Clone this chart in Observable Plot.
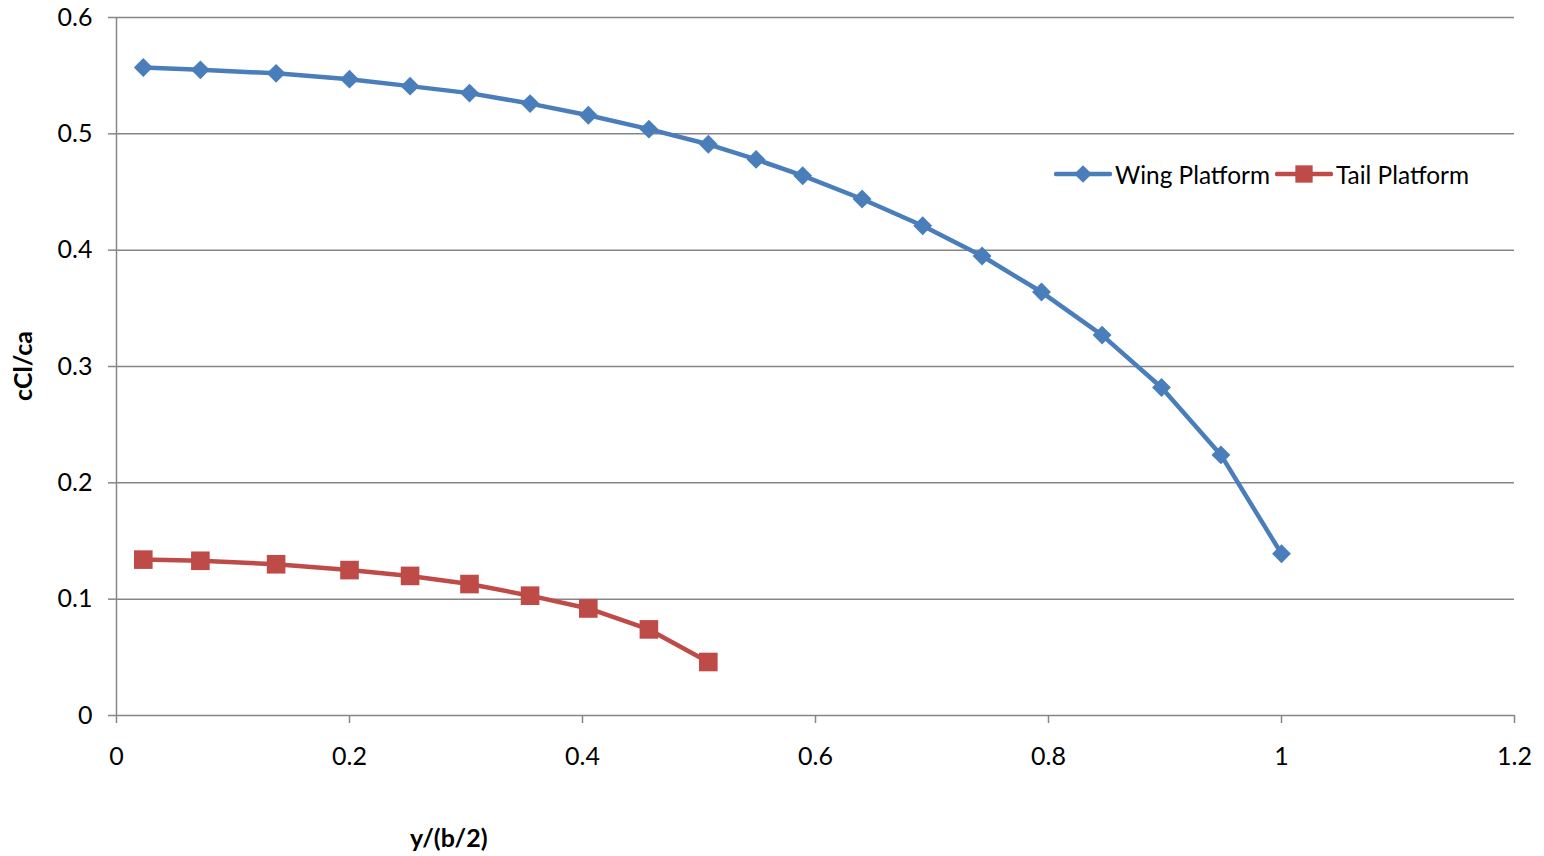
<!DOCTYPE html>
<html>
<head>
<meta charset="utf-8">
<script src="https://cdn.jsdelivr.net/npm/d3@7"></script>
<script src="https://cdn.jsdelivr.net/npm/@observablehq/plot@0.6"></script>
<style>
  body { margin: 0; background: #fff; }
  #wrap { position: relative; width: 1544px; height: 856px; font-family: Lato, "Open Sans", sans-serif; }
  .ttl { position: absolute; font-weight: bold; font-size: 25px; color: #000; white-space: nowrap; }
  #legend { position: absolute; left: 1054px; top: 159px; display: flex; align-items: center; font-size: 24.4px; color: #000; white-space: nowrap; }
  #legend svg { margin-right: 3px; }
  #legend span { margin-right: 5px; }
</style>
</head>
<body>
<div id="wrap"></div>
<script>
// ---- data ----
const spanX = [0.023, 0.072, 0.137, 0.200, 0.252, 0.303, 0.355, 0.405, 0.457, 0.508,
               0.549, 0.589, 0.640, 0.692, 0.743, 0.794, 0.846, 0.897, 0.948, 1.000];
const wingY = [0.557, 0.555, 0.552, 0.547, 0.541, 0.535, 0.526, 0.516, 0.504, 0.491,
               0.478, 0.464, 0.444, 0.421, 0.395, 0.364, 0.327, 0.282, 0.224, 0.139];
const tailX = [0.023, 0.072, 0.137, 0.200, 0.252, 0.303, 0.355, 0.405, 0.457, 0.508];
const tailY = [0.134, 0.133, 0.130, 0.125, 0.120, 0.113, 0.103, 0.092, 0.074, 0.046];
const xTicks = [0, 0.2, 0.4, 0.6, 0.8, 1, 1.2];
const yTicks = [0, 0.1, 0.2, 0.3, 0.4, 0.5, 0.6];
const seriesNames = ["Wing Platform", "Tail Platform"];
const seriesColors = ["#4A7EBB", "#BE4B48"];
const xTitle = "y/(b/2)";
const yTitle = "cCl/ca";

const wing = spanX.map((x, i) => ({x, y: wingY[i]}));
const tail = tailX.map((x, i) => ({x, y: tailY[i]}));
const fmt = d3.format("~g");

const chart = Plot.plot({
  width: 1544,
  height: 856,
  marginLeft: 116,
  marginRight: 30,
  marginTop: 17,
  marginBottom: 141,
  style: {fontFamily: "Lato, 'Open Sans', sans-serif", fontSize: "25px", color: "#000", background: "#fff"},
  x: {domain: [0, 1.2]},
  y: {domain: [0, 0.6]},
  marks: [
    Plot.ruleY(yTicks.filter(d => d > 0), {stroke: "#868686", strokeWidth: 1.5, strokeOpacity: 1}),
    Plot.ruleY([0], {stroke: "#868686", strokeWidth: 1.5, strokeOpacity: 1}),
    Plot.ruleX([0], {stroke: "#868686", strokeWidth: 1.5, strokeOpacity: 1}),
    Plot.axisX({ticks: xTicks, tickFormat: fmt, tickSize: 8, tickPadding: 24, stroke: "#868686", strokeWidth: 1.5, strokeOpacity: 1, label: null}),
    Plot.axisY({ticks: yTicks, tickFormat: fmt, tickSize: 8, tickPadding: 16, stroke: "#868686", strokeWidth: 1.5, strokeOpacity: 1, label: null}),
    Plot.line(wing, {x: "x", y: "y", stroke: seriesColors[0], strokeWidth: 4.5}),
    Plot.dot(wing, {x: "x", y: "y", symbol: "diamond2", r: 8.5, fill: seriesColors[0], stroke: null}),
    Plot.line(tail, {x: "x", y: "y", stroke: seriesColors[1], strokeWidth: 4.5}),
    Plot.dot(tail, {x: "x", y: "y", symbol: "square", r: 10.5, fill: seriesColors[1], stroke: null})
  ]
});

const wrap = document.getElementById("wrap");
wrap.appendChild(chart);

// axis titles
const xt = document.createElement("div");
xt.className = "ttl"; xt.textContent = xTitle;
xt.style.left = "410px"; xt.style.top = "822px";
wrap.appendChild(xt);
const yt = document.createElement("div");
yt.className = "ttl"; yt.textContent = yTitle;
yt.style.left = "22px"; yt.style.top = "366px";
yt.style.transform = "translate(-50%, -50%) rotate(-90deg)";
wrap.appendChild(yt);

// legend
const lg = document.createElement("div");
lg.id = "legend";
seriesNames.forEach((name, i) => {
  const s = d3.create("svg").attr("width", 58).attr("height", 30);
  s.append("line").attr("x1", 2).attr("x2", 56).attr("y1", 15).attr("y2", 15)
    .attr("stroke", seriesColors[i]).attr("stroke-width", 4.5).attr("stroke-linecap", "round");
  const sym = i === 0 ? d3.symbol(d3.symbolDiamond2, 200) : d3.symbol(d3.symbolSquare, 300);
  s.append("path").attr("d", sym()).attr("transform", "translate(29,15)").attr("fill", seriesColors[i]);
  lg.appendChild(s.node());
  const t = document.createElement("span");
  t.textContent = name;
  lg.appendChild(t);
});
wrap.appendChild(lg);
</script>
</body>
</html>
